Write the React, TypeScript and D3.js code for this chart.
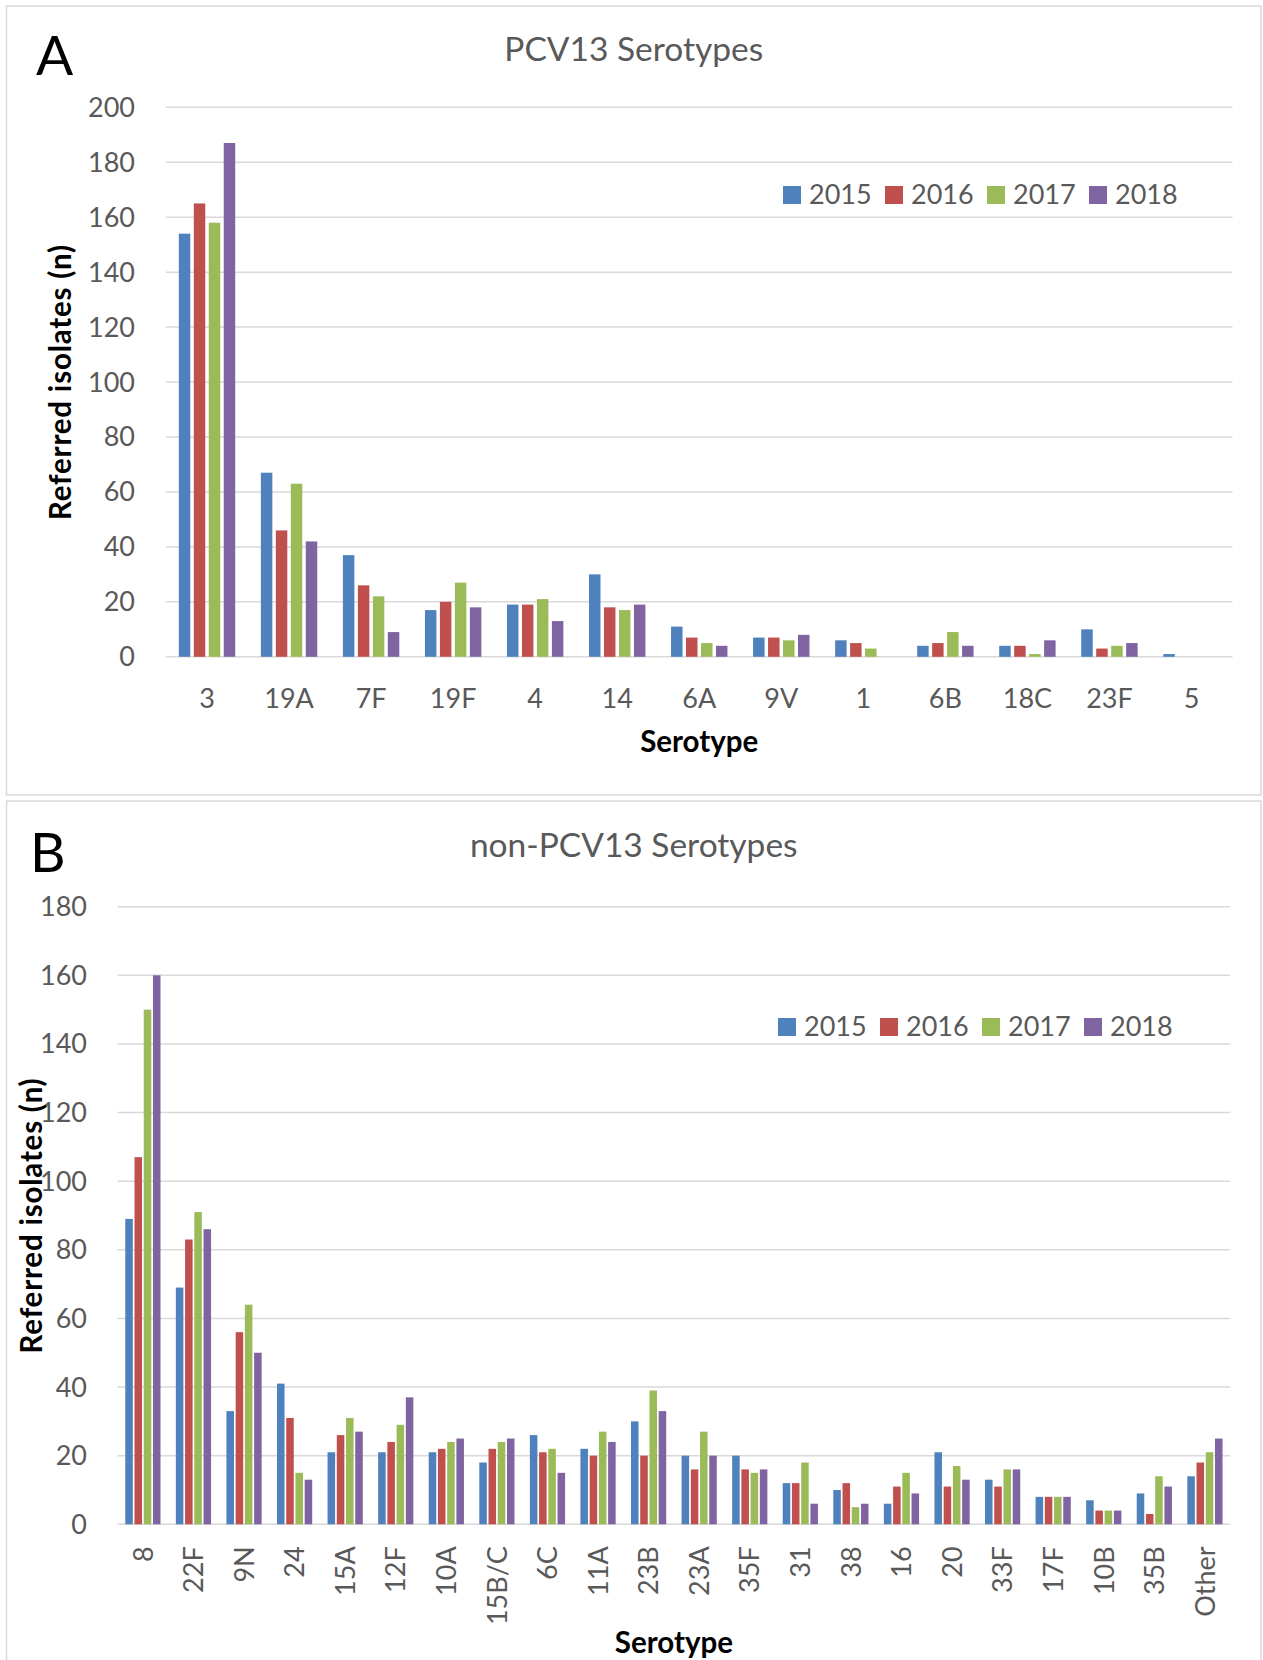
import React from "react";
import * as d3 from "d3";

// series / categories
const years = ["2015", "2016", "2017", "2018"];
const colors = ["#4F81BD", "#C0504D", "#9BBB59", "#8064A2"];

const pcvSerotypes = ["3", "19A", "7F", "19F", "4", "14", "6A", "9V", "1", "6B", "18C", "23F", "5"];
const pcv2015 = [154, 67, 37, 17, 19, 30, 11, 7, 6, 4, 4, 10, 1];
const pcv2016 = [165, 46, 26, 20, 19, 18, 7, 7, 5, 5, 4, 3, 0];
const pcv2017 = [158, 63, 22, 27, 21, 17, 5, 6, 3, 9, 1, 4, 0];
const pcv2018 = [187, 42, 9, 18, 13, 19, 4, 8, 0, 4, 6, 5, 0];

const nonPcvSerotypes = ["8", "22F", "9N", "24", "15A", "12F", "10A", "15B/C", "6C", "11A", "23B", "23A", "35F", "31", "38", "16", "20", "33F", "17F", "10B", "35B", "Other"];
const non2015 = [89, 69, 33, 41, 21, 21, 21, 18, 26, 22, 30, 20, 20, 12, 10, 6, 21, 13, 8, 7, 9, 14];
const non2016 = [107, 83, 56, 31, 26, 24, 22, 22, 21, 20, 20, 16, 16, 12, 12, 11, 11, 11, 8, 4, 3, 18];
const non2017 = [150, 91, 64, 15, 31, 29, 24, 24, 22, 27, 39, 27, 15, 18, 5, 15, 17, 16, 8, 4, 14, 21];
const non2018 = [160, 86, 50, 13, 27, 37, 25, 25, 15, 24, 33, 20, 16, 6, 6, 9, 13, 16, 8, 4, 11, 25];

const pcvTicks = [0, 20, 40, 60, 80, 100, 120, 140, 160, 180, 200];
const nonPcvTicks = [0, 20, 40, 60, 80, 100, 120, 140, 160, 180];

const FONT = "Lato, 'Open Sans', sans-serif";
const GREY = "#595959";
const GRID = "#D9D9D9";

type PanelProps = {
  letter: string;
  title: string;
  categories: string[];
  series: number[][];
  ticks: number[];
  frame: { x: number; y: number; w: number; h: number };
  plot: { left: number; right: number; top: number; bottom: number };
  letterPos: [number, number];
  titleY: number;
  yLabelX: number;
  yTickRight: number;
  xTitleY: number;
  legendPos: [number, number];
  barGap: number;
  rotateLabels: boolean;
};

function Panel(p: PanelProps) {
  const yMax = p.ticks[p.ticks.length - 1];
  const y = d3.scaleLinear().domain([0, yMax]).range([p.plot.bottom, p.plot.top]);
  const x = d3.scaleBand().domain(p.categories).range([p.plot.left, p.plot.right]).padding(0);
  const bw = x.bandwidth();
  const groupFrac = 0.73;
  const inner = d3
    .scaleBand()
    .domain(years)
    .range([bw * (1 - groupFrac) / 2, bw * (1 + groupFrac) / 2])
    .padding(0);
  const slot = inner.bandwidth();
  const cx = (p.plot.left + p.plot.right) / 2;
  const cy = (p.plot.top + p.plot.bottom) / 2;

  return (
    <g>
      <rect x={p.frame.x} y={p.frame.y} width={p.frame.w} height={p.frame.h} fill="#fff" stroke={GRID} strokeWidth={1.5} />
      <text x={p.letterPos[0]} y={p.letterPos[1]} fontSize={55} fontFamily={FONT} fill="#000">{p.letter}</text>
      <text x={(p.frame.x * 2 + p.frame.w) / 2} y={p.titleY} fontSize={33.5} fontFamily={FONT} fill={GREY} textAnchor="middle">{p.title}</text>

      {/* gridlines + y ticks */}
      {p.ticks.map((t) => (
        <g key={t}>
          <line x1={p.plot.left} x2={p.plot.right} y1={y(t)} y2={y(t)} stroke={GRID} strokeWidth={1.5} />
          <text x={p.yTickRight} y={y(t)} dy="0.35em" textAnchor="end" fontSize={27} fontFamily={FONT} fill={GREY}>{t}</text>
        </g>
      ))}

      {/* bars */}
      {p.categories.map((c, i) => (
        <g key={c} transform={`translate(${x(c)},0)`}>
          {years.map((yr, s) => {
            const v = p.series[s][i];
            if (!v) return null;
            return (
              <rect
                key={yr}
                x={(inner(yr) as number) + p.barGap / 2}
                y={y(v)}
                width={slot - p.barGap}
                height={y(0) - y(v)}
                fill={colors[s]}
              />
            );
          })}
        </g>
      ))}

      {/* category labels */}
      {p.categories.map((c) => {
        const mx = (x(c) as number) + bw / 2;
        return p.rotateLabels ? (
          <text key={c} transform={`translate(${mx},${p.plot.bottom + 22}) rotate(-90)`} dy="0.36em" textAnchor="end" fontSize={27} fontFamily={FONT} fill={GREY}>{c}</text>
        ) : (
          <text key={c} x={mx} y={p.plot.bottom + 51} textAnchor="middle" fontSize={27} fontFamily={FONT} fill={GREY}>{c}</text>
        );
      })}

      {/* axis titles */}
      <text x={cx} y={p.xTitleY} textAnchor="middle" fontSize={29.5} fontWeight="bold" fontFamily={FONT} fill="#000">Serotype</text>
      <text transform={`translate(${p.yLabelX},${cy}) rotate(-90)`} dy="0.35em" textAnchor="middle" fontSize={29.5} fontWeight="bold" fontFamily={FONT} fill="#000" letterSpacing={0.8}>Referred isolates (n)</text>

      {/* legend */}
      {years.map((yr, s) => (
        <g key={yr} transform={`translate(${p.legendPos[0] + s * 102},${p.legendPos[1]})`}>
          <rect x={0} y={-9} width={18} height={18} fill={colors[s]} />
          <text x={26} y={0} dy="0.35em" fontSize={27} fontFamily={FONT} fill={GREY}>{yr}</text>
        </g>
      ))}
    </g>
  );
}

export default function App() {
  return (
    <svg width={1263} height={1660} style={{ position: "absolute", left: 0, top: 0, display: "block", background: "#fff" }}>
      <Panel
        letter="A"
        title="PCV13 Serotypes"
        categories={pcvSerotypes}
        series={[pcv2015, pcv2016, pcv2017, pcv2018]}
        ticks={pcvTicks}
        frame={{ x: 6.5, y: 6, w: 1254.5, h: 789 }}
        plot={{ left: 166, right: 1232.5, top: 107.3, bottom: 656.8 }}
        letterPos={[36, 75]}
        titleY={61}
        yLabelX={61}
        yTickRight={135}
        xTitleY={752}
        legendPos={[783, 195]}
        barGap={3.5}
        rotateLabels={false}
      />
      <Panel
        letter="B"
        title="non-PCV13 Serotypes"
        categories={nonPcvSerotypes}
        series={[non2015, non2016, non2017, non2018]}
        ticks={nonPcvTicks}
        frame={{ x: 6.5, y: 801, w: 1254.5, h: 880 }}
        plot={{ left: 117.6, right: 1230.2, top: 906.7, bottom: 1524.3 }}
        letterPos={[30, 871.5]}
        titleY={856.5}
        yLabelX={31.5}
        yTickRight={87}
        xTitleY={1653}
        legendPos={[778, 1027]}
        barGap={1.7}
        rotateLabels={true}
      />
    </svg>
  );
}
